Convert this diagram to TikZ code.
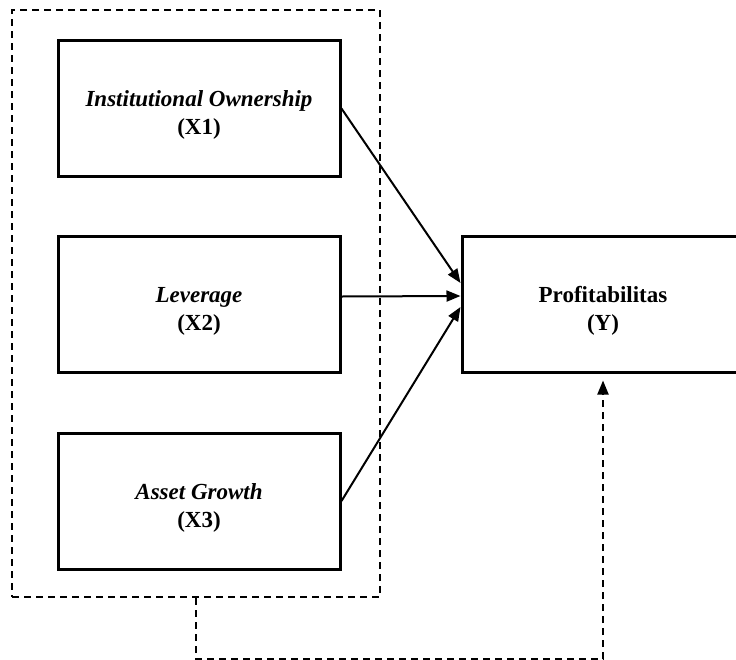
\documentclass[tikz,border=0pt]{standalone}
\usepackage{fontspec}
\setmainfont{Liberation Serif}
\usepackage{tikz}
\usetikzlibrary{arrows.meta}

\begin{document}
\begin{tikzpicture}[x=1pt, y=-1pt, thick,
    var node/.style={rectangle, draw, line width=3pt, minimum width=282pt, minimum height=136pt, align=center, font=\fontsize{23}{28}\selectfont\bfseries},
    group node/.style={rectangle, draw, line width=2pt, dash pattern=on 7pt off 5pt, minimum width=368pt, minimum height=587pt},
    link/.style={line width=2pt, -{Triangle[length=14pt, width=11pt]}}]
    \useasboundingbox (0,0) rectangle (736,659);

    \node[group node] (grp) at (196,303.5) {};
    \node[var node] (X1) at (199,108.5) {\rule{0pt}{29pt}\itshape Institutional Ownership\\(X1)};
    \node[var node] (X2) at (199,304.5) {\rule{0pt}{29pt}\itshape Leverage\\(X2)};
    \node[var node] (X3) at (199,501) {\rule{0pt}{29pt}\itshape Asset Growth\\(X3)};
    \node[var node] (Y) at (603,304) {\rule{0pt}{29pt}Profitabilitas\\(Y)};

    \path
    (X1.east) edge[link] ([yshift=21pt]Y.west)
    ([yshift=8pt]X2.east) edge[link] ([yshift=8pt]Y.west)
    (X3.east) edge[link] ([yshift=-3pt]Y.west)
    ;

    \draw[link, dash pattern=on 7pt off 5pt] (grp.south) -- ++(0,61) -| ([yshift=-7pt]Y.south);
\end{tikzpicture}
\end{document}
